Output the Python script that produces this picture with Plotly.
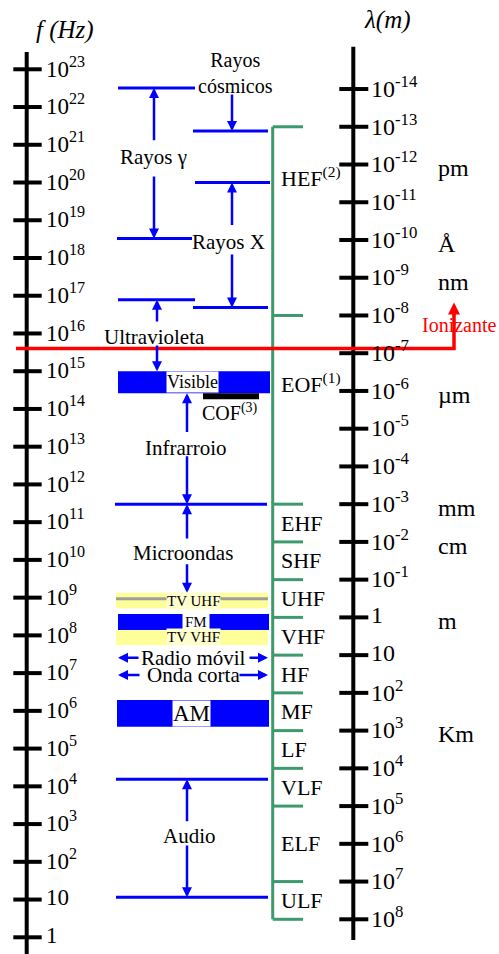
import numpy as np
import plotly.graph_objects as go

C = 2.998e8  # speed of light, m/s

# ------------------------------------------------------------------ data
freq_tick_exponents = list(range(0, 24))      # 1 Hz ... 1e23 Hz
wl_tick_exponents = list(range(-14, 9))       # 1e-14 m ... 1e8 m

unit_names = ["pm", "Å", "nm", "µm", "mm", "cm", "m", "Km"]
unit_wavelengths = [1e-12, 1e-10, 1e-9, 1e-6, 1e-3, 1e-2, 1.0, 1e3]

band_names = ["HEF<sup>(2)</sup>", "EOF<sup>(1)</sup>", "EHF", "SHF", "UHF", "VHF",
              "HF", "MF", "LF", "VLF", "ELF", "ULF"]
band_edges_wl = [1e-13, 1e-8, 1e-3, 1e-2, 1e-1, 1.0, 1e1, 1e2, 1e3, 1e4, 1e5, 1e7, 1e8]
band_label_wl = [2.1e-12, 6.3e-7] + [None] * 10   # None -> centred in band

# region limits (Hz)
gamma_range = (3.3e18, 3.2e22)
cosmic_low = 2.3e21
xray_range = (4.9e16, 1.0e20)
uv_high = 7.8e16
ir_micro_edge = 3.0e11
micro_low = 9.3e8
audio_range = (11.5, 1.55e4)

visible_band = (2.6e14, 1.0e15)
cof_band = (1.8e14, 2.6e14)
tv_uhf_band = (5.2e8, 1.35e9)
fm_band = (1.39e8, 3.7e8)
tv_vhf_band = (5.6e7, 1.39e8)
am_band = (3.8e5, 1.94e6)
radio_movil_f = 2.56e7
onda_corta_f = 8.9e6
ionizing_f = 4.0e15

# label centres (Hz)
label_f = {
    "cosmic": 8.1e22, "gamma": 4.7e20, "xray": 2.7e18, "uv": 7.9e15,
    "ir": 9.3e12, "micro": 1.5e10, "audio": 470.0, "cof": 8.5e13,
    "ioniz": 1.66e16,
}

# ------------------------------------------------------------------ helpers
def ef(f):
    return float(np.log10(f))

def ew(l):
    return float(np.log10(C / l))

FONT = "Liberation Serif"
BLUE = "#0000FF"
GREEN = "#3C9A6C"
YELLOW = "rgba(255,255,90,0.62)"

# layout columns (pixels on a 0..499 x-axis)
XL = (118, 195)
XR = (194, 269)
XF = (116, 268)
AX_L, AX_R = 26.7, 353.3
X_GREEN = 272.7

fig = go.Figure()
ann = []
shapes = []


def seg_trace(xs, ys, color, width):
    fig.add_trace(go.Scatter(x=xs, y=ys, mode="lines",
                             line=dict(color=color, width=width),
                             hoverinfo="skip"))


def text(x, y, s, size, xanchor="center", yanchor="middle", color="black", **kw):
    ann.append(dict(x=x, y=y, text=s, showarrow=False, xanchor=xanchor,
                    yanchor=yanchor, font=dict(family=FONT, size=size, color=color), **kw))


def arrow(x, tip, tail, color=BLUE, horizontal=False, y=None):
    if horizontal:
        ann.append(dict(x=tip, y=y, ax=tail, ay=y, axref="x", ayref="y", xref="x", yref="y",
                        text="", showarrow=True, arrowhead=2, arrowsize=0.8,
                        arrowwidth=2.5, arrowcolor=color, standoff=0))
    else:
        ann.append(dict(x=x, y=tip, ax=x, ay=tail, axref="x", ayref="y", xref="x", yref="y",
                        text="", showarrow=True, arrowhead=2, arrowsize=0.8,
                        arrowwidth=2.5, arrowcolor=color, standoff=0))


# ------------------------------------------------------------------ axes
# left frequency axis
xs, ys = [AX_L, AX_L, None], [23.46, -0.45, None]
for e in freq_tick_exponents:
    xs += [13.3, 41.7, None]
    ys += [e, e, None]
    lab = "1" if e == 0 else ("10" if e == 1 else f"10<sup>{e}</sup>")
    text(44, e + 0.06, lab, 23, xanchor="left")
seg_trace(xs, ys, "black", 4)

# right wavelength axis
xs, ys = [AX_R, AX_R, None], [23.6, -0.07, None]
for L in wl_tick_exponents:
    y = ew(10.0 ** L)
    xs += [339.3, 368.3, None]
    ys += [y, y, None]
    lab = "1" if L == 0 else ("10" if L == 1 else f"10<sup>{L}</sup>")
    text(369, y + 0.06, lab, 24, xanchor="left")
seg_trace(xs, ys, "black", 4)

for name, l in zip(unit_names, unit_wavelengths):
    text(436, ew(l) - 0.1, name, 24, xanchor="left")

text(65, 24.03, "<i>f (Hz)</i>", 25)
text(387, 24.3, "<i>λ(m)</i>", 25)

# ------------------------------------------------------------------ green band bracket
xs = [X_GREEN, X_GREEN, None]
ys = [ew(band_edges_wl[0]), ew(band_edges_wl[-1]), None]
for l in band_edges_wl:
    xs += [X_GREEN, 303, None]
    ys += [ew(l), ew(l), None]
seg_trace(xs, ys, GREEN, 3)

for i, name in enumerate(band_names):
    if band_label_wl[i] is not None:
        y = ew(band_label_wl[i])
    else:
        y = 0.5 * (ew(band_edges_wl[i]) + ew(band_edges_wl[i + 1]))
    text(279, y, name, 22, xanchor="left")

# ------------------------------------------------------------------ bars (shapes)
def bar(x, band, color, layer="below", opacity=1.0):
    shapes.append(dict(type="rect", xref="x", yref="y", x0=x[0], x1=x[1],
                       y0=ef(band[0]), y1=ef(band[1]), fillcolor=color,
                       line=dict(width=0), layer=layer, opacity=opacity))

# microwave lower limit line sits under the translucent TV UHF band
shapes.append(dict(type="line", xref="x", yref="y", x0=XF[0], x1=XF[1],
                   y0=ef(micro_low), y1=ef(micro_low), line=dict(color=BLUE, width=3),
                   layer="below"))
bar((118, 270), visible_band, BLUE)
bar((203, 259), cof_band, "black")
bar(XF, tv_uhf_band, YELLOW, layer="above")
bar((118, 269), fm_band, BLUE)
bar(XF, tv_vhf_band, YELLOW, layer="above")
bar((117, 269), am_band, BLUE)

# ------------------------------------------------------------------ blue limit lines
xs, ys = [], []
for (x0, x1), f in [(XL, gamma_range[1]), ((117, 192), gamma_range[0]), (XL, uv_high),
                    ((193, 268), cosmic_low), ((195, 270), xray_range[1]),
                    ((193, 268), xray_range[0]), ((115, 267), ir_micro_edge),
                    (XF, audio_range[1]), (XF, audio_range[0])]:
    xs += [x0, x1, None]
    ys += [ef(f), ef(f), None]
seg_trace(xs, ys, BLUE, 3)

# ------------------------------------------------------------------ red ionizing limit
yi = ef(ionizing_f)
seg_trace([16, 454, 454], [yi, yi, ef(label_f["ioniz"]) + 0.35], "#FF0000", 3.5)
ann.append(dict(x=454, y=ef(label_f["ioniz"]) + 0.6, ax=454, ay=ef(label_f["ioniz"]) + 0.2,
                axref="x", ayref="y", text="", showarrow=True, arrowhead=2,
                arrowsize=0.8, arrowwidth=3, arrowcolor="#FF0000", standoff=0))
text(420, ef(label_f["ioniz"]), "Ionizante", 20, xanchor="left", color="#FF0000")

# ------------------------------------------------------------------ labels and arrows
GU = 0.38

# cosmic rays
text(235, ef(label_f["cosmic"]), "Rayos<br>cósmicos", 20)
arrow(232, ef(cosmic_low), ef(label_f["cosmic"]) - 0.54)

# gamma rays
xg = 154
text(153, ef(label_f["gamma"]), "Rayos γ", 21)
arrow(xg, ef(gamma_range[1]), ef(label_f["gamma"]) + 0.41)
arrow(xg, ef(gamma_range[0]), ef(label_f["gamma"]) - 0.47)

# X rays
xx = 232
text(228, ef(label_f["xray"]), "Rayos X", 21)
arrow(xx, ef(xray_range[1]), ef(label_f["xray"]) + 0.40)
arrow(xx, ef(xray_range[0]), ef(label_f["xray"]) - 0.30)

# ultraviolet
xu = 157
text(154, ef(label_f["uv"]), "Ultravioleta", 21)
arrow(xu, ef(uv_high), ef(label_f["uv"]) + GU)
arrow(xu, ef(visible_band[1]), ef(label_f["uv"]) - 0.18)

# visible / COF
text(192, 0.5 * (ef(visible_band[0]) + ef(visible_band[1])), "Visible", 18,
     bgcolor="white", borderpad=0)
text(230, ef(label_f["cof"]), "COF<sup>(3)</sup>", 20)

# infrared
xi = 187
text(186, ef(label_f["ir"]), "Infrarroio", 21)
arrow(xi, ef(visible_band[0]), ef(label_f["ir"]) + GU)
arrow(xi, ef(ir_micro_edge), ef(label_f["ir"]) - 0.18)

# microwaves
text(183, ef(label_f["micro"]), "Microondas", 21)
arrow(xi, ef(ir_micro_edge), ef(label_f["micro"]) + 0.35)
arrow(xi, ef(tv_uhf_band[1]), ef(label_f["micro"]) - 0.25)

# radio sub-bands
text(193, 0.5 * (ef(tv_uhf_band[0]) + ef(tv_uhf_band[1])), "TV UHF", 15,
     bgcolor="rgb(255,255,205)", borderpad=0)
text(196, 0.5 * (ef(fm_band[0]) + ef(fm_band[1])), "FM", 15,
     bgcolor="white", borderpad=2)
text(193, 0.5 * (ef(tv_vhf_band[0]) + ef(tv_vhf_band[1])), "TV VHF", 15,
     bgcolor="rgb(255,255,205)", borderpad=0)

text(193, ef(radio_movil_f), "Radio móvil", 21)
arrow(None, 118, 140, horizontal=True, y=ef(radio_movil_f))
arrow(None, 268, 248, horizontal=True, y=ef(radio_movil_f))
text(193, ef(onda_corta_f), "Onda corta", 21)
arrow(None, 118, 141, horizontal=True, y=ef(onda_corta_f))
arrow(None, 268, 238, horizontal=True, y=ef(onda_corta_f))

text(191, 0.5 * (ef(am_band[0]) + ef(am_band[1])), "AM", 23,
     bgcolor="white", borderpad=0)

# audio
text(189, ef(label_f["audio"]), "Audio", 21)
arrow(187, ef(audio_range[1]), ef(label_f["audio"]) + 0.36)
arrow(187, ef(audio_range[0]), ef(label_f["audio"]) - 0.2)

# ------------------------------------------------------------------ layout
fig.update_layout(
    width=499, height=954,
    margin=dict(l=0, r=0, t=0, b=0),
    paper_bgcolor="white", plot_bgcolor="white",
    showlegend=False,
    xaxis=dict(range=[0, 499], visible=False, fixedrange=True),
    yaxis=dict(range=[-0.4425, 24.836], visible=False, fixedrange=True),
    annotations=ann, shapes=shapes,
    font=dict(family=FONT),
)

fig.write_html("out.html", config={"displayModeBar": False},
               post_script="document.body.style.margin='0';document.body.style.overflow='hidden';")
